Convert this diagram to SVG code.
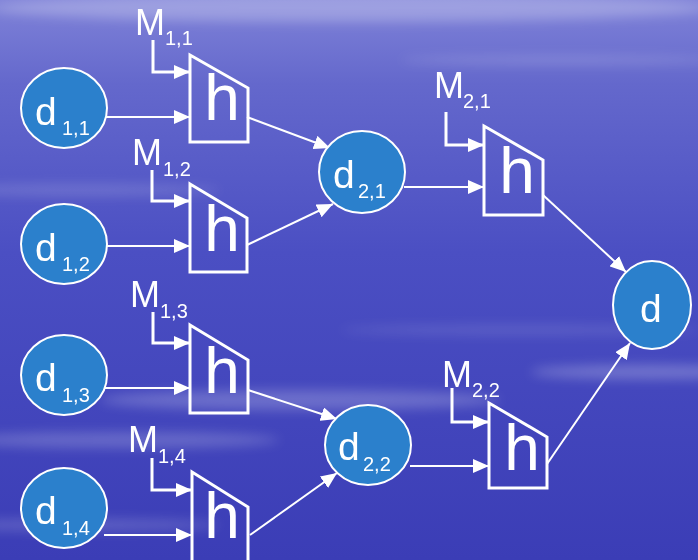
<svg xmlns="http://www.w3.org/2000/svg" width="698" height="560" viewBox="0 0 698 560">
<defs>
<linearGradient id="bg" x1="0" y1="0" x2="0" y2="1">
<stop offset="0" stop-color="#7f82d8"/>
<stop offset="0.15" stop-color="#6468cc"/>
<stop offset="0.45" stop-color="#4b4fc3"/>
<stop offset="1" stop-color="#3b3db6"/>
</linearGradient>
<filter id="blur" x="-20%" y="-200%" width="140%" height="500%"><feGaussianBlur stdDeviation="6"/></filter>
<marker id="ah" markerUnits="userSpaceOnUse" markerWidth="16" markerHeight="14" refX="16" refY="7" orient="auto">
<path d="M0,0 L16,7 L0,14 Z" fill="#fff"/>
</marker>
<style>
.node ellipse{fill:#2b80cc;stroke:#fff;stroke-width:2}
.t{font-family:"Liberation Sans",Arial,sans-serif;fill:#fff}
.d{font-size:39px}
.s{font-size:20px}
.m{font-size:36px}
.h{font-size:64px;text-anchor:middle}
.box{fill:none;stroke:#fff;stroke-width:3;stroke-linejoin:miter}
.c line,.c polyline{stroke:#fff;fill:none;marker-end:url(#ah)}
.c line{stroke-width:2}
.c polyline{stroke-width:3}
</style>
</defs>
<rect width="698" height="560" fill="url(#bg)"/>
<g filter="url(#blur)" fill="#fff">
<ellipse cx="350" cy="8" rx="360" ry="14" opacity="0.25"/>
<ellipse cx="80" cy="190" rx="140" ry="6" opacity="0.15"/>
<ellipse cx="560" cy="60" rx="160" ry="5" opacity="0.15"/>
<ellipse cx="300" cy="400" rx="200" ry="10" opacity="0.22"/>
<ellipse cx="650" cy="372" rx="120" ry="7" opacity="0.25"/>
<ellipse cx="120" cy="440" rx="160" ry="8" opacity="0.2"/>
<ellipse cx="80" cy="525" rx="140" ry="6" opacity="0.18"/>
<ellipse cx="520" cy="330" rx="180" ry="5" opacity="0.12"/>
</g>

<g class="c" id="connectors">
<line x1="106" y1="117" x2="190" y2="117"/>
<line x1="106" y1="246" x2="190" y2="246"/>
<line x1="104" y1="388" x2="190" y2="388"/>
<line x1="104" y1="535" x2="192" y2="535"/>
<line x1="404" y1="187" x2="484" y2="187"/>
<line x1="410" y1="466" x2="489" y2="466"/>
<polyline points="153,40 153,72 190,72"/>
<polyline points="152,170 152,201 190,201"/>
<polyline points="153,312 153,343 190,343"/>
<polyline points="152,458 152,490 192,490"/>
<polyline points="446,112 446,145 484,145"/>
<polyline points="452,388 452,422 489,422"/>
<line x1="247" y1="117" x2="330" y2="148"/>
<line x1="247" y1="245" x2="333" y2="204"/>
<line x1="248" y1="390" x2="337" y2="419"/>
<line x1="250" y1="535" x2="337" y2="473"/>
<line x1="543" y1="195" x2="626" y2="272"/>
<line x1="547" y1="464" x2="630" y2="343"/>
</g>

<g class="node" id="d11"><ellipse cx="64" cy="108" rx="43" ry="40"/><text class="t d" x="35" y="125">d</text><text class="t s" x="62" y="135">1,1</text></g>
<g class="node" id="d12"><ellipse cx="64" cy="244" rx="43" ry="40"/><text class="t d" x="35" y="261">d</text><text class="t s" x="62" y="271">1,2</text></g>
<g class="node" id="d13"><ellipse cx="64" cy="375" rx="43" ry="40"/><text class="t d" x="35" y="391">d</text><text class="t s" x="62" y="402">1,3</text></g>
<g class="node" id="d14"><ellipse cx="64" cy="508" rx="43" ry="40"/><text class="t d" x="35" y="524">d</text><text class="t s" x="62" y="535">1,4</text></g>
<g class="node" id="d21"><ellipse cx="362" cy="172" rx="43" ry="41"/><text class="t d" x="333" y="188">d</text><text class="t s" x="358" y="198">2,1</text></g>
<g class="node" id="d22"><ellipse cx="368" cy="445" rx="43" ry="40"/><text class="t d" x="338" y="460">d</text><text class="t s" x="363" y="471">2,2</text></g>
<g class="node" id="d"><ellipse cx="652" cy="305" rx="39" ry="44"/><text class="t d" x="640" y="322">d</text></g>

<g id="h11"><polygon class="box" points="190,55 248,88 248,142 190,142"/><text class="t h" x="222" y="120">h</text><text class="t m" x="135" y="35">M</text><text class="t s" x="165" y="45">1,1</text></g>
<g id="h12"><polygon class="box" points="190,184 247,218 247,272 190,272"/><text class="t h" x="222" y="251">h</text><text class="t m" x="132" y="165">M</text><text class="t s" x="163" y="176">1,2</text></g>
<g id="h13"><polygon class="box" points="190,325 248,360 248,413 190,413"/><text class="t h" x="222" y="393">h</text><text class="t m" x="130" y="307">M</text><text class="t s" x="160" y="318">1,3</text></g>
<g id="h14"><polygon class="box" points="192,472 248,507 248,578 192,578"/><text class="t h" x="222" y="538">h</text><text class="t m" x="128" y="452">M</text><text class="t s" x="158" y="463">1,4</text></g>
<g id="h21"><polygon class="box" points="484,126 543,160 543,215 484,215"/><text class="t h" x="517" y="193">h</text><text class="t m" x="434" y="98">M</text><text class="t s" x="463" y="108">2,1</text></g>
<g id="h22"><polygon class="box" points="489,403 547,437 547,488 489,488"/><text class="t h" x="522" y="470">h</text><text class="t m" x="442" y="387">M</text><text class="t s" x="472" y="397">2,2</text></g>
</svg>
